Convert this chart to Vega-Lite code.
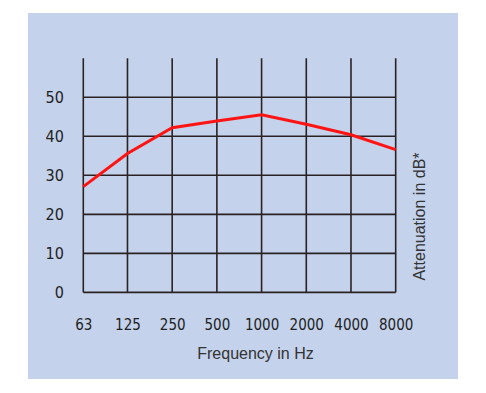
{
  "$schema": "https://vega.github.io/schema/vega-lite/v6.json",
  "width": 430,
  "height": 366,
  "autosize": {"type": "none"},
  "padding": {"left": 28, "top": 13, "right": 28, "bottom": 14},
  "background": "white",
  "view": {"fill": "#c4d2ec", "stroke": null},
  "config": {
    "axis": {"labelFont": "DejaVu Sans Condensed, Liberation Sans Narrow, sans-serif", "titleFont": "Liberation Sans, Arial, sans-serif", "labelColor": "#222222", "titleColor": "#333333", "titleFontWeight": "normal"}
  },
  "datasets": {
    "curve": [
      {"freq": 63, "att": 27.1},
      {"freq": 125, "att": 35.6},
      {"freq": 250, "att": 42.2},
      {"freq": 500, "att": 43.9},
      {"freq": 1000, "att": 45.5},
      {"freq": 2000, "att": 43.1},
      {"freq": 4000, "att": 40.4},
      {"freq": 8000, "att": 36.6}
    ],
    "hlines": [{"level": 0}, {"level": 10}, {"level": 20}, {"level": 30}, {"level": 40}, {"level": 50}]
  },
  "resolve": {"axis": {"y": "independent"}},
  "layer": [
    {
      "data": {"name": "hlines"},
      "mark": {"type": "rule", "color": "#2a2222", "strokeWidth": 1.6},
      "encoding": {
        "x": {"datum": 63, "type": "quantitative", "scale": {"type": "log", "base": 2, "domain": [26.73, 21025]},
          "axis": {"orient": "bottom", "offset": -86.7, "values": [63, 125, 250, 500, 1000, 2000, 4000, 8000], "format": "d",
            "domain": false, "ticks": false, "grid": false, "labelFontSize": 15, "labelPadding": 25, "labelBaseline": "top",
            "title": "Frequency in Hz", "titleFontSize": 16, "titlePadding": 13, "titleX": 227, "titleAlign": "center"}},
        "x2": {"datum": 8000},
        "y": {"field": "level", "type": "quantitative", "scale": {"domain": [-22.2, 71.6], "nice": false, "zero": false},
          "axis": {"orient": "right", "labels": false, "ticks": false, "domain": false, "grid": false,
            "title": "Attenuation in dB*", "titleFontSize": 16, "titleAngle": 270, "titleX": -39, "titleY": 203, "titleAlign": "center", "titleBaseline": "middle"}}
      }
    },
    {
      "data": {"name": "curve"},
      "mark": {"type": "rule", "color": "#2a2222", "strokeWidth": 1.6},
      "encoding": {
        "x": {"field": "freq", "type": "quantitative", "scale": {"type": "log", "base": 2, "domain": [26.73, 21025]}},
        "y": {"datum": 0, "type": "quantitative", "scale": {"domain": [-22.2, 71.6], "nice": false, "zero": false}, "axis": null},
        "y2": {"datum": 60}
      }
    },
    {
      "data": {"name": "curve"},
      "mark": {"type": "line", "color": "#ff1414", "strokeWidth": 3},
      "encoding": {
        "x": {"field": "freq", "type": "quantitative", "scale": {"type": "log", "base": 2, "domain": [26.73, 21025]}},
        "y": {"field": "att", "type": "quantitative", "scale": {"domain": [-22.2, 71.6], "nice": false, "zero": false},
          "axis": {"orient": "left", "offset": -55.3, "values": [0, 10, 20, 30, 40, 50], "domain": false, "ticks": false, "grid": false,
            "labelFontSize": 16, "labelPadding": 20, "labelBaseline": "middle", "title": null}}
      }
    }
  ]
}
